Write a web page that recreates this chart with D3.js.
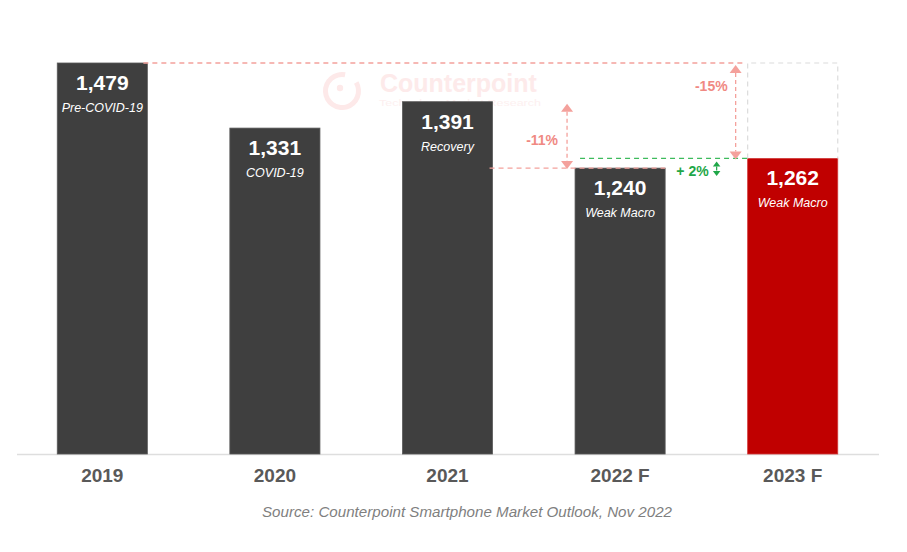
<!DOCTYPE html>
<html>
<head>
<meta charset="utf-8">
<script src="https://cdn.jsdelivr.net/npm/d3@7"></script>
<style>
  html, body { margin: 0; padding: 0; background: #ffffff; }
  svg { display: block; font-family: "Liberation Sans", Arial, sans-serif; }
</style>
</head>
<body>
<svg id="chart" width="907" height="552"></svg>
<script>
// ---- data ----
const categories = ["2019", "2020", "2021", "2022 F", "2023 F"];
const values = [1479, 1331, 1391, 1240, 1262];
const notes = ["Pre-COVID-19", "COVID-19", "Recovery", "Weak Macro", "Weak Macro"];
const highlight = ["2023 F"];
const changeLabels = ["-11%", "-15%", "+ 2%"];
const sourceText = "Source: Counterpoint Smartphone Market Outlook, Nov 2022";

// ---- layout ----
const svg = d3.select("#chart");
const x = d3.scaleBand().domain(categories).range([16, 879]).paddingInner(0.478).paddingOuter(0.239);
const y = d3.scaleLinear().domain([590, 1479]).range([454, 63]);
const val = c => values[categories.indexOf(c)];

const pink = "#f4a19c", pinkText = "#f08983", green = "#3dbb5c", greenText = "#1fa748";

// watermark
const wm = svg.append("g");
wm.append("path")
  .attr("d", d3.arc()({innerRadius: 14, outerRadius: 19, startAngle: 0.33 * Math.PI, endAngle: 2.06 * Math.PI}))
  .attr("transform", "translate(342,91)")
  .attr("fill", "#fde9e9");
wm.append("circle").attr("cx", 340).attr("cy", 88).attr("r", 3.2).attr("fill", "#fde9e9");
wm.append("text").attr("x", 380).attr("y", 92).attr("font-size", 25).attr("font-weight", "bold")
  .attr("fill", "#fdeaea").text("Counterpoint");
wm.append("text").attr("x", 379).attr("y", 106).attr("font-size", 9.5)
  .attr("textLength", 162).attr("lengthAdjust", "spacingAndGlyphs")
  .attr("fill", "#fdf0f0").text("Technology Market Research");

// axis
const axis = svg.append("g").attr("transform", `translate(0,${y.range()[0]})`)
  .call(d3.axisBottom(x).tickSize(0).tickPadding(15));
axis.select(".domain").attr("stroke", "#dedede").attr("stroke-width", 1.5)
  .attr("d", `M17,0.5H879`);
axis.selectAll(".tick text")
  .attr("font-size", 19).attr("font-weight", "bold").attr("fill", "#595959")
  .attr("font-family", "Liberation Sans, Arial, sans-serif");

// bars
svg.append("g").selectAll("rect").data(categories).join("rect")
  .attr("x", d => x(d)).attr("width", x.bandwidth())
  .attr("y", d => y(val(d))).attr("height", d => y.range()[0] - y(val(d)))
  .attr("fill", d => highlight.includes(d) ? "#c00000" : "#3f3f3f")
  .attr("stroke", d => highlight.includes(d) ? "#d23a3a" : "#5a5a5a").attr("stroke-width", 0.8);

// value labels
const lbl = svg.append("g").attr("text-anchor", "middle").attr("fill", "#ffffff");
lbl.selectAll("text.v").data(categories).join("text").attr("class", "v")
  .attr("x", d => x(d) + x.bandwidth() / 2).attr("y", d => y(val(d)) + 27)
  .attr("font-size", 21).attr("font-weight", "bold")
  .text(d => d3.format(",")(val(d)));
lbl.selectAll("text.n").data(categories).join("text").attr("class", "n")
  .attr("x", d => x(d) + x.bandwidth() / 2).attr("y", d => y(val(d)) + 49)
  .attr("font-size", 12.5).attr("font-style", "italic")
  .text((d, i) => notes[i]);

// annotations
const ann = svg.append("g");
const c19 = "2019", c21 = "2021", c22 = "2022 F", c23 = "2023 F";
const dash = "5,4";

// ghost box over 2023 at 2019 level
ann.append("path")
  .attr("d", `M${x(c23)},${y(val(c23))}V${y(val(c19))}H${x(c23) + x.bandwidth()}V${y(val(c23))}`)
  .attr("fill", "none").attr("stroke", "#dcdcdc").attr("stroke-width", 1.2).attr("stroke-dasharray", dash);
// pink line at 2019 level
ann.append("line")
  .attr("x1", x(c19) + x.bandwidth() - 4).attr("x2", x(c23) - 2)
  .attr("y1", y(val(c19))).attr("y2", y(val(c19)))
  .attr("stroke", pink).attr("stroke-width", 1.3).attr("stroke-dasharray", dash);
// pink line at 2022 level
ann.append("line")
  .attr("x1", x(c21) + x.bandwidth() - 3).attr("x2", x(c22) + x.bandwidth())
  .attr("y1", y(val(c22))).attr("y2", y(val(c22)))
  .attr("stroke", pink).attr("stroke-width", 1.3).attr("stroke-dasharray", dash);
// green line at 2023 level
ann.append("line")
  .attr("x1", x(c22) + 5).attr("x2", x(c23))
  .attr("y1", y(val(c23))).attr("y2", y(val(c23)))
  .attr("stroke", green).attr("stroke-width", 1.3).attr("stroke-dasharray", dash);

function dblArrow(g, cx, y1, y2, color, head, sw) {
  g.append("line").attr("x1", cx).attr("x2", cx).attr("y1", y1 + head).attr("y2", y2 - head)
    .attr("stroke", color).attr("stroke-width", sw).attr("stroke-dasharray", "4,3");
  g.append("path").attr("d", `M${cx},${y1}L${cx - head * 0.75},${y1 + head}L${cx + head * 0.75},${y1 + head}Z`).attr("fill", color);
  g.append("path").attr("d", `M${cx},${y2}L${cx - head * 0.75},${y2 - head}L${cx + head * 0.75},${y2 - head}Z`).attr("fill", color);
}
// -11% arrow
const a11x = x(c22) - 8;
dblArrow(ann, a11x, y(val(c21)) + 2, y(val(c22)) + 1, pink, 8, 1.3);
ann.append("text").attr("x", a11x - 9).attr("y", (y(val(c21)) + y(val(c22))) / 2 + 10)
  .attr("text-anchor", "end").attr("font-size", 14).attr("font-weight", "bold").attr("fill", pinkText)
  .text(changeLabels[0]);
// -15% arrow
const a15x = x(c23) - 12;
dblArrow(ann, a15x, y(val(c19)) + 2, y(val(c23)) + 1, pink, 8, 1.3);
ann.append("text").attr("x", a15x - 8).attr("y", y(val(c19)) + 28)
  .attr("text-anchor", "end").attr("font-size", 14).attr("font-weight", "bold").attr("fill", pinkText)
  .text(changeLabels[1]);
// +2% arrow
const a2x = x(c23) - 31;
dblArrow(ann, a2x, y(val(c23)) + 3, y(val(c22)) + 8, greenText, 5, 1.2);
ann.append("text").attr("x", a2x - 8).attr("y", y(val(c23)) + 18)
  .attr("text-anchor", "end").attr("font-size", 14).attr("font-weight", "bold").attr("fill", greenText)
  .text(changeLabels[2]);

// source
svg.append("text").attr("x", 467).attr("y", 517).attr("text-anchor", "middle")
  .attr("font-size", 15).attr("font-style", "italic").attr("fill", "#7f7f7f")
  .attr("textLength", 410).attr("lengthAdjust", "spacingAndGlyphs")
  .text(sourceText);
</script>
</body>
</html>
